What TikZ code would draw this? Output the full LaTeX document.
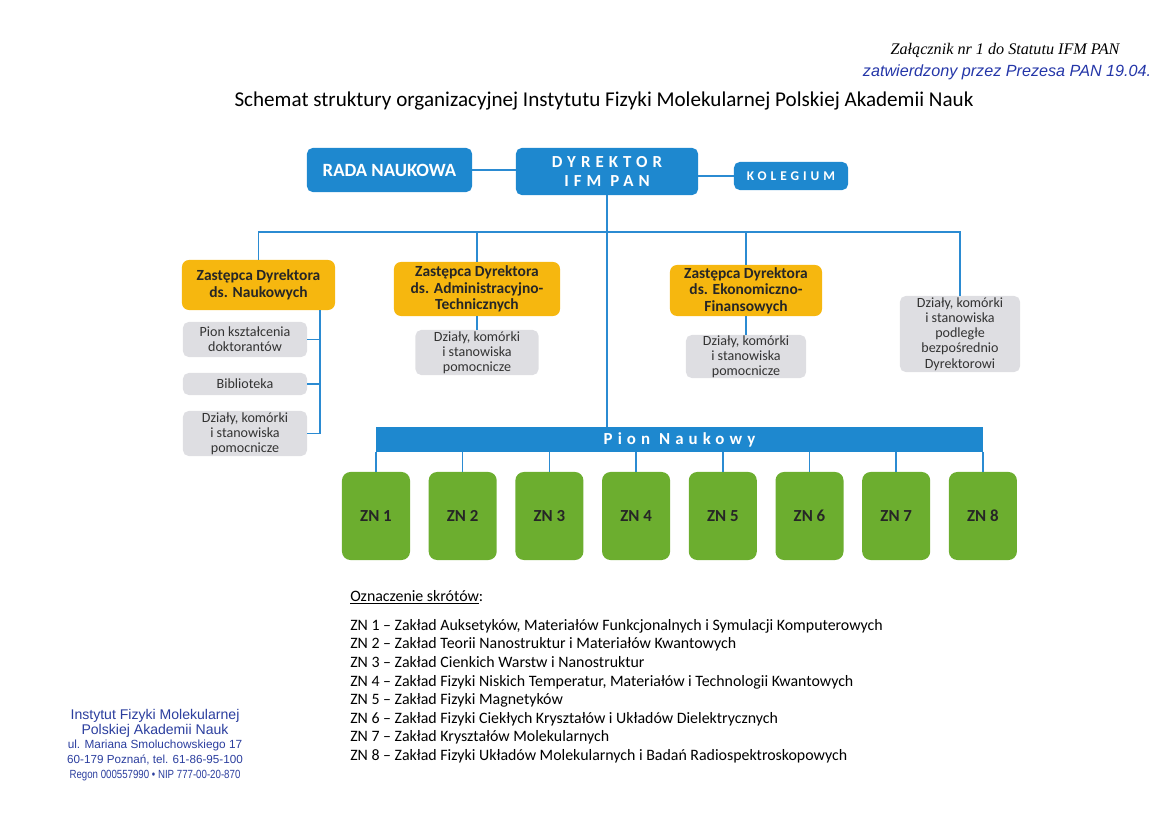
\documentclass[tikz,border=0pt]{standalone}
\usepackage{fontspec}
\setmainfont{Carlito}
\newfontfamily\serifit{Liberation Serif}
\newfontfamily\stampfont{Liberation Sans}
\newfontfamily\stampnarrow[FakeStretch=0.82]{Liberation Sans}
\newfontfamily\spacedfont[LetterSpace=30]{Carlito}
\usetikzlibrary{positioning}

\definecolor{ifmblue}{HTML}{1E88CF}
\definecolor{ifmline}{HTML}{2B8BD2}
\definecolor{ifmorange}{HTML}{F6B70F}
\definecolor{ifmgray}{HTML}{DEDEE2}
\definecolor{ifmgreen}{HTML}{6CAE2F}
\definecolor{inkblue}{HTML}{2436A8}
\definecolor{stampblue}{HTML}{2B3E9E}

\tikzset{
  bluebox/.style={fill=ifmblue,text=white,rounded corners=4pt,inner sep=0pt,align=center},
  deputy/.style={fill=ifmorange,text=black!85,rounded corners=5pt,inner sep=0pt,align=center,
    font=\bfseries\fontsize{11}{11.8}\selectfont},
  unitbox/.style={fill=ifmgray,text=black!80,rounded corners=4pt,inner sep=0pt,align=center,
    font=\fontsize{10}{10.8}\selectfont},
  lab/.style={fill=ifmgreen,text=black!85,rounded corners=6pt,minimum width=1.7cm,
    minimum height=2.2cm,inner sep=0pt,font=\bfseries\fontsize{12}{14}\selectfont},
  link/.style={draw=ifmline,line width=1.1pt}
}

\begin{document}
\begin{tikzpicture}[x=0.025cm,y=-0.025cm]
  \useasboundingbox (0,0) rectangle (1169,826);
  % naglowek
  \node[font=\serifit\itshape\fontsize{11.5}{13}\selectfont] (zal) at (1005,50) {Załącznik nr 1 do Statutu IFM PAN};
  \node[anchor=west,text=inkblue,font=\stampfont\itshape\fontsize{11.5}{13}\selectfont] (zatw) at (858,72) {zatwierdzony przez Prezesa PAN 19.04.};
  \node[font=\fontsize{15}{17}\selectfont] (tytul) at (604,101) {Schemat struktury organizacyjnej Instytutu Fizyki Molekularnej Polskiej Akademii Nauk};

  % dyrekcja
  \node[bluebox,minimum width=4.125cm,minimum height=1.1cm,font=\bfseries\fontsize{13.3}{15}\selectfont] (rada) at (389.5,170) {RADA NAUKOWA};
  \node[bluebox,minimum width=4.55cm,minimum height=1.175cm,font=\spacedfont\bfseries\fontsize{12}{13.5}\selectfont] (dyr) at (607,171.5) {DYREKTOR\\IFM PAN};
  \node[bluebox,minimum width=2.85cm,minimum height=0.7cm,font=\spacedfont\bfseries\fontsize{9.5}{11}\selectfont] (kol) at (791,176) {KOLEGIUM};
  \draw[link] (rada.east) -- (rada.east -| dyr.west);
  \draw[link] (dyr.east |- kol) -- (kol.west);

  % zastepcy
  \node[deputy,minimum width=3.825cm,minimum height=1.25cm] (zdn) at (258.5,285) {Zastępca Dyrektora\\ds. Naukowych};
  \node[deputy,minimum width=4.15cm,minimum height=1.35cm] (zda) at (477,289) {Zastępca Dyrektora\\ds. Administracyjno-\\Technicznych};
  \node[deputy,minimum width=3.8cm,minimum height=1.275cm] (zde) at (746,290.5) {Zastępca Dyrektora\\ds. Ekonomiczno-\\Finansowych};
  \node[unitbox,minimum width=3.0cm,minimum height=1.9cm] (dbezp) at (960,334) {Działy, komórki\\i stanowiska\\podległe\\bezpośrednio\\Dyrektorowi};
  \coordinate (bus) at (607,232);
  \draw[link] (zdn.north) |- (bus) -| (dbezp.north);
  \draw[link] (zda.north) -- (zda.north |- bus);
  \draw[link] (zde.north) -- (zde.north |- bus);

  % komorki pomocnicze
  \node[unitbox,minimum width=3.1cm,minimum height=0.875cm] (g1) at (245,339.5) {Pion kształcenia\\doktorantów};
  \node[unitbox,minimum width=3.1cm,minimum height=0.55cm] (g2) at (245,384) {Biblioteka};
  \node[unitbox,minimum width=3.1cm,minimum height=1.125cm] (g3) at (245,433.5) {Działy, komórki\\i stanowiska\\pomocnicze};
  \coordinate (spine) at (320,310);
  \draw[link] (zdn.south -| spine) |- (g3.east);
  \draw[link] (g1.east) -- (g1.east -| spine);
  \draw[link] (g2.east) -- (g2.east -| spine);
  \node[unitbox,minimum width=3.075cm,minimum height=1.125cm] (uda) at (477,352.5) {Działy, komórki\\i stanowiska\\pomocnicze};
  \node[unitbox,minimum width=3.0cm,minimum height=1.075cm] (ude) at (746,356.5) {Działy, komórki\\i stanowiska\\pomocnicze};
  \draw[link] (zda) -- (uda);
  \draw[link] (zde) -- (ude);

  % pion naukowy
  \node[bluebox,sharp corners,minimum width=15.175cm,minimum height=0.6cm,font=\spacedfont\bfseries\fontsize{12}{14}\selectfont] (pion) at (679.5,439.5) {Pion Naukowy};
  \draw[link] (dyr.south) -- (dyr.south |- pion.north);
  \foreach \i in {1,...,8}
    \node[lab] (zn\i) at ({376+86.7*(\i-1)},516) {ZN \i};
  \foreach \i in {1,...,8}
    \draw[link] (zn\i.north |- pion.south) -- (zn\i.north);

  % legenda
  \node[anchor=base west,inner sep=0pt,font=\fontsize{11.3}{13}\selectfont] (leg) at (350,601) {\underline{Oznaczenie skrótów}:};
  \node[anchor=north west,align=left,inner sep=0pt,font=\fontsize{11.3}{13.2}\selectfont] (legl) at (350,619) {ZN 1 – Zakład Auksetyków, Materiałów Funkcjonalnych i Symulacji Komputerowych\\
    ZN 2 – Zakład Teorii Nanostruktur i Materiałów Kwantowych\\
    ZN 3 – Zakład Cienkich Warstw i Nanostruktur\\
    ZN 4 – Zakład Fizyki Niskich Temperatur, Materiałów i Technologii Kwantowych\\
    ZN 5 – Zakład Fizyki Magnetyków\\
    ZN 6 – Zakład Fizyki Ciekłych Kryształów i Układów Dielektrycznych\\
    ZN 7 – Zakład Kryształów Molekularnych\\
    ZN 8 – Zakład Fizyki Układów Molekularnych i Badań Radiospektroskopowych};

  % pieczec
  \node[text=stampblue,align=center,inner sep=0pt,font=\stampfont\fontsize{10}{10.4}\selectfont] (piecz) at (155,745) {Instytut Fizyki Molekularnej\\Polskiej Akademii Nauk\\{\fontsize{8.4}{10.4}\selectfont ul. Mariana Smoluchowskiego 17}\\{\fontsize{8.3}{10.4}\selectfont 60-179 Poznań, tel. 61-86-95-100}\\{\stampnarrow\fontsize{8.4}{9.5}\selectfont Regon 000557990 • NIP 777-00-20-870}};
\end{tikzpicture}
\end{document}
